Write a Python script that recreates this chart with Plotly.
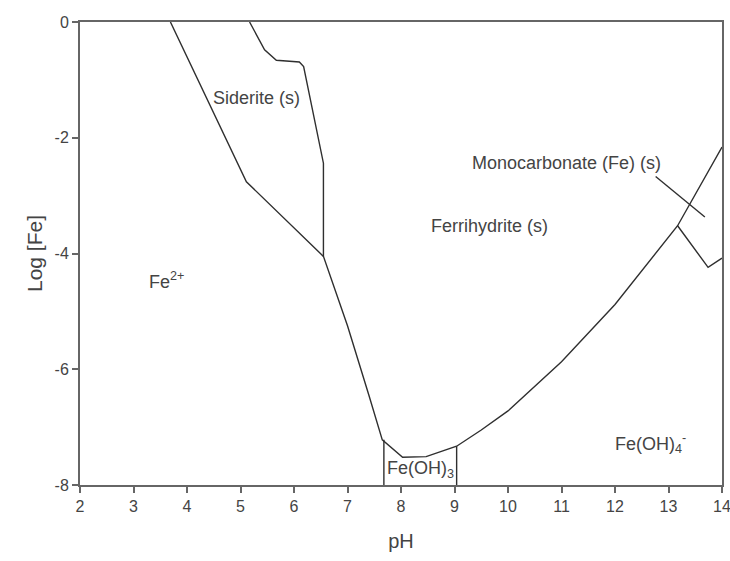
import plotly.graph_objects as go

# Boundary: Fe2+ / solids (main solubility curve)
main_ph = [3.69, 5.11, 6.55, 7.0, 7.4, 7.65, 8.03, 8.47, 9.04, 9.5, 10.0, 11.0, 12.0, 13.17, 14.0]
main_logfe = [0.0, -2.76, -4.05, -5.25, -6.45, -7.22, -7.52, -7.51, -7.33, -7.05, -6.72, -5.87, -4.88, -3.52, -2.16]

# Siderite right boundary
sid_ph = [5.17, 5.45, 5.67, 6.10, 6.18, 6.55, 6.55]
sid_logfe = [0.0, -0.48, -0.66, -0.69, -0.77, -2.44, -4.05]

# Fe(OH)3 field vertical boundaries
foh3_left_ph = [7.68, 7.68]
foh3_left_logfe = [-7.22, -8.0]
foh3_right_ph = [9.04, 9.04]
foh3_right_logfe = [-7.33, -8.0]

# Monocarbonate boundary
mono_ph = [13.17, 13.74, 14.0]
mono_logfe = [-3.52, -4.24, -4.08]

# Leader line for monocarbonate label
lead_ph = [12.76, 13.68]
lead_logfe = [-2.67, -3.37]

labels_text = ["Siderite (s)", "Fe<sup>2+</sup>", "Ferrihydrite (s)", "Monocarbonate (Fe) (s)",
               "Fe(OH)<sub>3</sub>", "Fe(OH)<sub>4</sub><sup>-</sup>"]
labels_x = [5.30, 3.62, 9.65, 11.10, 8.37, 12.67]
labels_y = [-1.32, -4.46, -3.53, -2.44, -7.74, -7.28]

x_ticks = list(range(2, 15))
x_ticktext = [str(v) for v in x_ticks]
y_ticks = [-8, -6, -4, -2, 0]
y_ticktext = ["-8", "-6", "-4", "-2", "0"]

FONT = "Liberation Sans, Arial"
line_color = "#2f2f2f"
text_color = "#444444"
fig = go.Figure()
for xs, ys in [(main_ph, main_logfe), (sid_ph, sid_logfe), (foh3_left_ph, foh3_left_logfe),
               (foh3_right_ph, foh3_right_logfe), (mono_ph, mono_logfe), (lead_ph, lead_logfe)]:
    fig.add_trace(go.Scatter(x=xs, y=ys, mode="lines", line=dict(color=line_color, width=1.4),
                             showlegend=False, hoverinfo="skip", cliponaxis=False))

for t, x, y in zip(labels_text, labels_x, labels_y):
    fig.add_annotation(x=x, y=y, text=t, showarrow=False,
                       font=dict(family=FONT, size=18, color=text_color))

axis_common = dict(showgrid=False, zeroline=False, showline=True, linecolor="#666666", linewidth=2,
                   ticks="outside", ticklen=6, tickcolor="#666666", tickwidth=1.5, mirror=True,
                   automargin=False, ticklabeloverflow="allow",
                   tickfont=dict(family=FONT, size=16, color=text_color))
fig.update_xaxes(range=[2, 14], tickvals=x_ticks, ticktext=x_ticktext,
                 title=dict(text="pH", font=dict(family=FONT, size=20, color=text_color), standoff=20),
                 **axis_common)
fig.update_yaxes(range=[-8, 0], tickvals=y_ticks, ticktext=y_ticktext,
                 title=dict(text="Log [Fe]", font=dict(family=FONT, size=21, color=text_color), standoff=6),
                 **axis_common)
fig.update_layout(width=730, height=561, margin=dict(l=80, r=8, t=22, b=76),
                  plot_bgcolor="white", paper_bgcolor="white")
fig.write_html("out.html")
